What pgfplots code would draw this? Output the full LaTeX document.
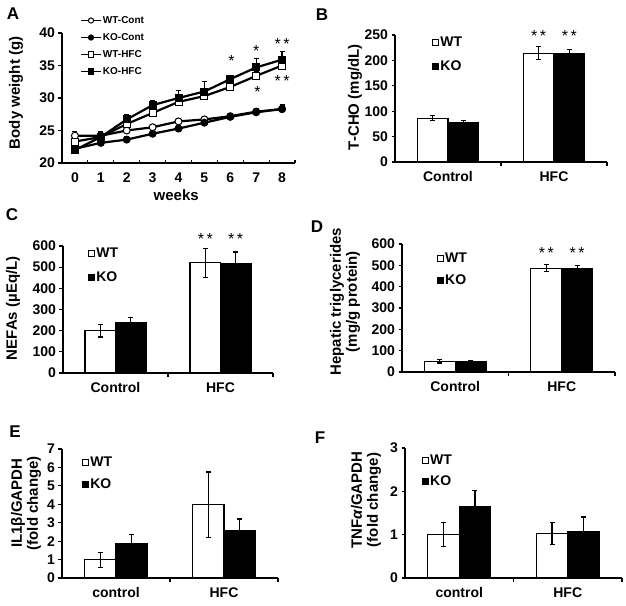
\documentclass[border=0pt]{standalone}
\usepackage{pgfplots}
\pgfplotsset{compat=1.18}
\usepackage{fontspec}
\setmainfont{Liberation Sans}
\newcommand{\fs}[1]{\fontsize{#1bp}{#1bp}\selectfont}
\tikzset{astk/.style={font=\fs{16}, anchor=base, yshift=-9bp, inner sep=0pt}}
\pgfplotsset{
  panel/.style={
    scale only axis,
    axis lines*=left,
    axis line style={line width=1.2bp, black},
    tick align=outside,
    tick style={line width=1.2bp, black},
    major tick length=3.5bp,
    clip=false,
    /pgf/number format/assume math mode=true,
    ticklabel style={font=\bfseries\fs{14}},
    xticklabel style={yshift=-6bp},
    label style={font=\bfseries\fontsize{15bp}{16bp}\selectfont},
  },
  barpanel/.style={
    panel,
    ymin=0,
    xmin=-0.5, xmax=1.5,
    xtick={0.5,1.5}, xticklabels={},
    extra x ticks={0,1},
    extra x tick style={major tick length=0pt},
    bar width=0.29,
    legend style={draw=none, fill=none, font=\bfseries\fs{14}, inner sep=0pt, row sep=10bp, nodes={inner sep=1.2bp}},
    legend cell align=left,
    legend image code/.code={\draw[#1, line width=0.9bp] (0bp,-3bp) rectangle (6bp,3bp);},
  },
  ebar/.style={
     error bars/y explicit,
     error bars/error bar style={line width=1.2bp, black},
     error bars/error mark options={rotate=90, mark size=2.5bp, line width=1.2bp, black}},
  wt/.style={ybar, bar shift=0pt, fill=white, draw=black, line width=1.2bp, ebar, error bars/y dir=both},
  ko/.style={ybar, bar shift=0pt, fill=black, draw=black, line width=1.2bp, ebar, error bars/y dir=both},
  ln/.style={black, line width=2.2bp, mark size=3.5bp, ebar, error bars/y dir=plus},
}
\begin{document}
\begin{tikzpicture}
\useasboundingbox (0,0) rectangle (626bp,-606bp);
% ---------------- A ----------------
\begin{axis}[panel, at={(62bp,-163bp)}, anchor=south west, width=233bp, height=130bp,
  xmin=-0.5, xmax=8.5, ymin=20, ymax=40, ytick={20,25,30,35,40},
  xtick={0.5,1.5,...,8.5}, xticklabels={}, xtick style={yshift=3.5bp},
  extra x ticks={0,1,2,3,4,5,6,7,8}, extra x tick labels={0,1,2,3,4,5,6,7,8},
  extra x tick style={major tick length=0pt},
  xlabel={weeks}, ylabel={Body weight (g)},
  xlabel style={at={(axis description cs:0.49,-0.245)}, anchor=center},
  ylabel style={at={(axis description cs:-0.197,0.54)}, anchor=center},
  legend style={at={(0.077,0.9)}, anchor=west, draw=none, fill=none, font=\bfseries\fs{10}, inner sep=0pt, row sep=6.5bp, nodes={inner sep=1bp}},
  legend cell align=left,
  legend image code/.code={\draw[mark repeat=2,mark phase=2,#1] plot coordinates {(0bp,0bp) (10bp,0bp) (20bp,0bp)};},
  legend image post style={mark size=2.6bp, line width=1.8bp},
]
\addplot[ln, mark=*, mark options={fill=white, line width=1bp}] coordinates {
 (0,24.2) +- (0,0.7) (1,24.2) +- (0,0.5) (2,25.0) +- (0,0.4) (3,25.5) +- (0,0.4) (4,26.4) +- (0,0.4)
 (5,26.7) +- (0,0.4) (6,27.2) +- (0,0.4) (7,27.9) +- (0,0.4) (8,28.3) +- (0,0.5)};
\addlegendentry{WT-Cont}
\addplot[ln, mark=*, mark options={fill=black, line width=1bp}] coordinates {
 (0,22.2) +- (0,0.4) (1,23.1) +- (0,0.4) (2,23.6) +- (0,0.4) (3,24.5) +- (0,0.4) (4,25.3) +- (0,0.4)
 (5,26.2) +- (0,0.4) (6,27.1) +- (0,0.5) (7,27.8) +- (0,0.6) (8,28.3) +- (0,0.7)};
\addlegendentry{KO-Cont}
\addplot[ln, mark=square*, mark options={fill=white, line width=1bp}] coordinates {
 (0,23.3) +- (0,0.5) (1,24.0) +- (0,0.5) (2,26.0) +- (0,0.5) (3,27.7) +- (0,0.5) (4,29.4) +- (0,0.6)
 (5,30.3) +- (0,0.6) (6,31.7) +- (0,0.5) (7,33.4) +- (0,0.6) (8,35.0) +- (0,0.6)};
\addlegendentry{WT-HFC}
\addplot[ln, mark=square*, mark options={fill=black, line width=1bp}] coordinates {
 (0,22.0) +- (0,0.5) (1,24.0) +- (0,0.8) (2,26.7) +- (0,0.8) (3,28.9) +- (0,0.7) (4,30.0) +- (0,1.2)
 (5,31.0) +- (0,1.5) (6,32.9) +- (0,0.6) (7,34.7) +- (0,1.4) (8,35.9) +- (0,1.2)};
\addlegendentry{KO-HFC}
\node[astk] at (axis cs:6.05,36.3) {*};
\node[astk] at (axis cs:7,37.8) {*};
\node[astk] at (axis cs:8,38.9) {*\kern2.5bp*};
\node[astk] at (axis cs:8,33.1) {*\kern2.5bp*};
\node[astk] at (axis cs:7.05,31.5) {*};
\end{axis}
% ---------------- B ----------------
\begin{axis}[barpanel, at={(395bp,-162bp)}, anchor=south west, width=212bp, height=127bp,
  ymax=250, ytick={0,50,...,250}, extra x tick labels={Control,HFC},
  ylabel={T-CHO (mg/dL)},
  ylabel style={at={(axis description cs:-0.189,0.51)}, anchor=center},
  legend style={at={(0.175,0.846)}, anchor=west},
]
\addplot[wt] coordinates {(-0.145,86) +- (0,5) (0.855,214) +- (0,13)};
\addlegendentry{WT}
\addplot[ko] coordinates {(0.145,78) +- (0,3) (1.145,213) +- (0,9)};
\addlegendentry{KO}
\node[astk] at (axis cs:0.855,254) {*\kern2.5bp*};
\node[astk] at (axis cs:1.145,254) {*\kern2.5bp*};
\end{axis}
% ---------------- C ----------------
\begin{axis}[barpanel, at={(63bp,-373bp)}, anchor=south west, width=210bp, height=127bp,
  ymax=600, ytick={0,100,...,600}, extra x tick labels={Control,HFC},
  ylabel={NEFAs (µEq/L)},
  ylabel style={at={(axis description cs:-0.238,0.51)}, anchor=center},
  legend style={at={(0.119,0.845)}, anchor=west},
]
\addplot[wt] coordinates {(-0.145,200) +- (0,30) (0.855,521) +- (0,68)};
\addlegendentry{WT}
\addplot[ko] coordinates {(0.145,238) +- (0,24) (1.145,516) +- (0,56)};
\addlegendentry{KO}
\node[astk] at (axis cs:0.855,650) {*\kern2.5bp*};
\node[astk] at (axis cs:1.145,650) {*\kern2.5bp*};
\end{axis}
% ---------------- D ----------------
\begin{axis}[barpanel, at={(402bp,-372bp)}, anchor=south west, width=213bp, height=128bp,
  ymax=600, ytick={0,100,...,600}, extra x tick labels={Control,HFC},
  ylabel={Hepatic triglycerides\\(mg/g protein)},
  ylabel style={at={(axis description cs:-0.268,0.55)}, anchor=center, align=center},
  legend style={at={(0.164,0.80)}, anchor=west, row sep=8bp},
]
\addplot[wt] coordinates {(-0.145,50) +- (0,8) (0.855,487) +- (0,17)};
\addlegendentry{WT}
\addplot[ko] coordinates {(0.145,47) +- (0,5) (1.145,487) +- (0,12)};
\addlegendentry{KO}
\node[astk] at (axis cs:0.855,572) {*\kern2.5bp*};
\node[astk] at (axis cs:1.145,572) {*\kern2.5bp*};
\end{axis}
% ---------------- E ----------------
\begin{axis}[barpanel, at={(62bp,-578bp)}, anchor=south west, width=216bp, height=129bp,
  ymax=7, ytick={0,1,...,7}, extra x tick labels={control,HFC},
  ylabel={IL1β/GAPDH\\(fold change)},
  ylabel style={at={(axis description cs:-0.167,0.58)}, anchor=center, align=center},
  legend style={at={(0.093,0.81)}, anchor=west, row sep=8bp},
]
\addplot[wt] coordinates {(-0.145,0.99) +- (0,0.4) (0.855,3.98) +- (0,1.77)};
\addlegendentry{WT}
\addplot[ko] coordinates {(0.145,1.84) +- (0,0.5) (1.145,2.57) +- (0,0.63)};
\addlegendentry{KO}
\end{axis}
% ---------------- F ----------------
\begin{axis}[barpanel, at={(405bp,-578bp)}, anchor=south west, width=217bp, height=130bp,
  ymax=3, ytick={0,1,2,3}, extra x tick labels={control,HFC},
  ylabel={TNF{\itshape α}/GAPDH\\(fold change)},
  ylabel style={at={(axis description cs:-0.18,0.6)}, anchor=center, align=center},
  legend style={at={(0.078,0.823)}, anchor=west, row sep=7bp},
]
\addplot[wt] coordinates {(-0.145,1.01) +- (0,0.28) (0.855,1.03) +- (0,0.26)};
\addlegendentry{WT}
\addplot[ko] coordinates {(0.145,1.645) +- (0,0.37) (1.145,1.06) +- (0,0.35)};
\addlegendentry{KO}
\end{axis}
% panel letters
\node[font=\bfseries\fs{17}] at (13bp,-14bp) {A};
\node[font=\bfseries\fs{17}] at (322bp,-15bp) {B};
\node[font=\bfseries\fs{17}] at (12bp,-215bp) {C};
\node[font=\bfseries\fs{17}] at (317bp,-227bp) {D};
\node[font=\bfseries\fs{17}] at (15bp,-432bp) {E};
\node[font=\bfseries\fs{17}] at (320bp,-438bp) {F};
\end{tikzpicture}
\end{document}
